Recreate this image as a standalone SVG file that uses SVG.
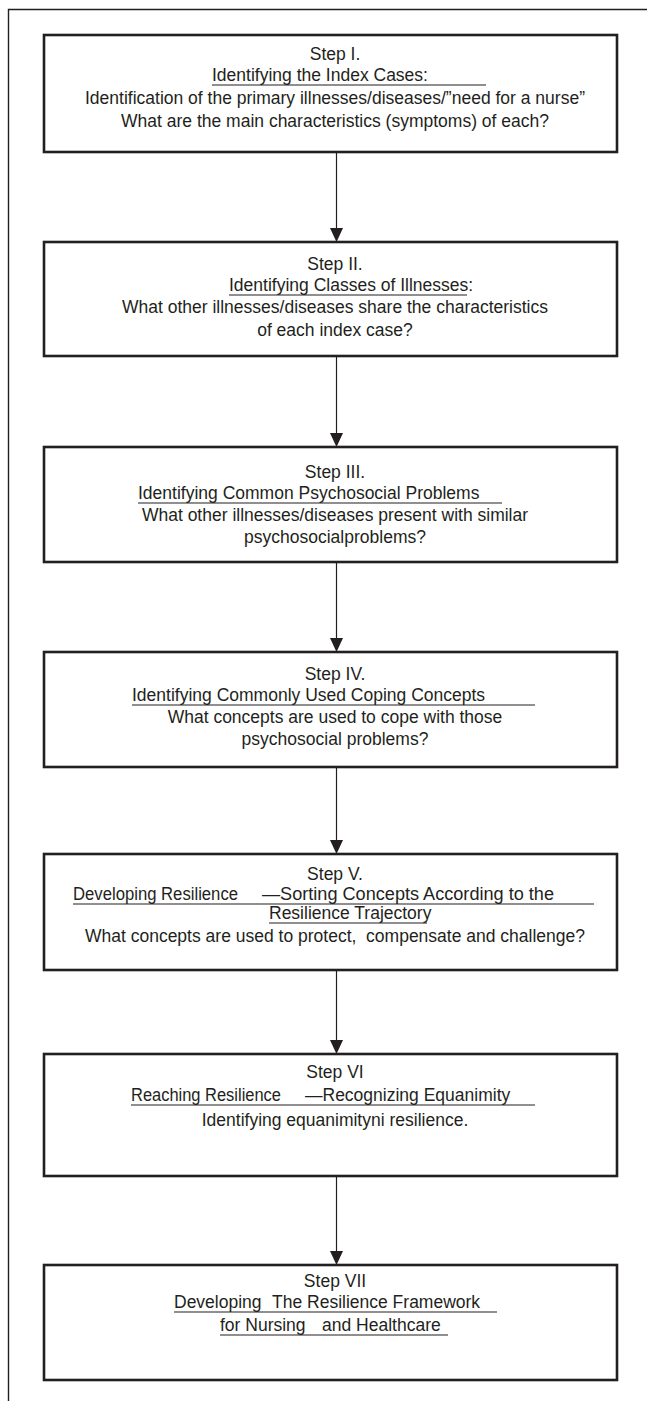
<svg xmlns="http://www.w3.org/2000/svg" width="647" height="1401" viewBox="0 0 647 1401">
<defs>
<style>
.box{fill:#ffffff;stroke:#231f20;stroke-width:2.6}
.frame{fill:none;stroke:#231f20;stroke-width:1.4}
.conn{stroke:#231f20;stroke-width:1.2;fill:none}
.head{fill:#231f20;stroke:none}
.t{font-family:"Liberation Sans",Arial,sans-serif;font-size:17.5px;fill:#231f20;text-anchor:middle}
.u{font-family:"Liberation Sans",Arial,sans-serif;font-size:17.5px;fill:#231f20;text-anchor:start}
.ul{stroke:#231f20;stroke-width:1.2}
</style>
</defs>
<rect width="647" height="1401" fill="#ffffff"/>
<path class="frame" d="M8.5,1401 V9.5 H647"/>
<g id="connectors">
<line class="conn" x1="336.5" y1="152" x2="336.5" y2="229"/>
<polygon class="head" points="330,228 343,228 336.5,242"/>
<line class="conn" x1="336.5" y1="356" x2="336.5" y2="434"/>
<polygon class="head" points="330,433 343,433 336.5,447"/>
<line class="conn" x1="336.5" y1="562" x2="336.5" y2="639"/>
<polygon class="head" points="330,638 343,638 336.5,652"/>
<line class="conn" x1="336.5" y1="767" x2="336.5" y2="841"/>
<polygon class="head" points="330,840 343,840 336.5,854"/>
<line class="conn" x1="336.5" y1="970" x2="336.5" y2="1041"/>
<polygon class="head" points="330,1040 343,1040 336.5,1054"/>
<line class="conn" x1="336.5" y1="1176" x2="336.5" y2="1252"/>
<polygon class="head" points="330,1251 343,1251 336.5,1265"/>
</g>
<g id="step1">
<rect class="box" x="44" y="35" width="573" height="117"/>
<text class="t" x="335" y="60">Step I.</text>
<text class="u" x="212" y="81">Identifying the Index Cases:</text>
<line class="ul" x1="212" y1="85" x2="486" y2="85"/>
<text class="t" x="335" y="104">Identification of the primary illnesses/diseases/”need for a nurse”</text>
<text class="t" x="335" y="127">What are the main characteristics (symptoms) of each?</text>
</g>
<g id="step2">
<rect class="box" x="44" y="242" width="573" height="114"/>
<text class="t" x="335" y="270">Step II.</text>
<text class="u" x="229" y="291">Identifying Classes of Illnesses:</text>
<line class="ul" x1="229" y1="295" x2="467" y2="295"/>
<text class="t" x="335" y="313">What other illnesses/diseases share the characteristics</text>
<text class="t" x="335" y="336">of each index case?</text>
</g>
<g id="step3">
<rect class="box" x="44" y="447" width="573" height="115"/>
<text class="t" x="335" y="478">Step III.</text>
<text class="u" x="138" y="499">Identifying Common Psychosocial Problems</text>
<line class="ul" x1="138" y1="503" x2="502" y2="503"/>
<text class="t" x="335" y="521">What other illnesses/diseases present with similar</text>
<text class="t" x="335" y="543">psychosocialproblems?</text>
</g>
<g id="step4">
<rect class="box" x="44" y="652" width="573" height="115"/>
<text class="t" x="335" y="680">Step IV.</text>
<text class="u" x="132" y="701">Identifying Commonly Used Coping Concepts</text>
<line class="ul" x1="132" y1="705" x2="535" y2="705"/>
<text class="t" x="335" y="723">What concepts are used to cope with those</text>
<text class="t" x="335" y="745">psychosocial problems?</text>
</g>
<g id="step5">
<rect class="box" x="44" y="854" width="573" height="116"/>
<text class="t" x="335" y="880">Step V.</text>
<text class="u" y="900"><tspan x="73" textLength="165" lengthAdjust="spacingAndGlyphs">Developing Resilience</tspan><tspan x="262" textLength="292" lengthAdjust="spacingAndGlyphs">—Sorting Concepts According to the</tspan></text>
<line class="ul" x1="73" y1="904" x2="594" y2="904"/>
<text class="u" x="269" y="919">Resilience Trajectory</text>
<line class="ul" x1="269" y1="923" x2="427" y2="923"/>
<text class="t" x="335" y="942" xml:space="preserve">What concepts are used to protect,  compensate and challenge?</text>
</g>
<g id="step6">
<rect class="box" x="44" y="1054" width="573" height="122"/>
<text class="t" x="335" y="1078">Step VI</text>
<text class="u" y="1101"><tspan x="131" textLength="150" lengthAdjust="spacingAndGlyphs">Reaching Resilience</tspan><tspan x="305">—Recognizing Equanimity</tspan></text>
<line class="ul" x1="131" y1="1105" x2="535" y2="1105"/>
<text class="t" x="335" y="1126">Identifying equanimityni resilience.</text>
</g>
<g id="step7">
<rect class="box" x="44" y="1265" width="573" height="115"/>
<text class="t" x="335" y="1287">Step VII</text>
<text class="u" y="1308"><tspan x="174">Developing</tspan><tspan x="272">The Resilience Framework</tspan></text>
<line class="ul" x1="174" y1="1312" x2="497" y2="1312"/>
<text class="u" y="1331"><tspan x="220">for Nursing</tspan><tspan x="322">and Healthcare</tspan></text>
<line class="ul" x1="220" y1="1335" x2="448" y2="1335"/>
</g>
</svg>
